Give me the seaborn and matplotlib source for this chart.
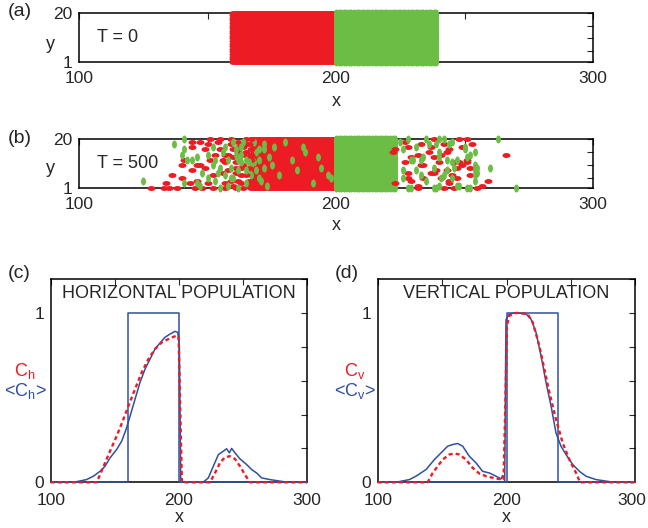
import numpy as np
import pandas as pd
import matplotlib
matplotlib.use("Agg")
import matplotlib.pyplot as plt
from matplotlib.path import Path
from matplotlib.transforms import Affine2D, ScaledTranslation
import seaborn as sns

sns.set_theme(style="white", rc={
    "axes.edgecolor": "black",
    "axes.linewidth": 1.1,
    "xtick.color": "0.15",
    "ytick.color": "0.15",
})
plt.rcParams["font.family"] = ["Liberation Sans", "DejaVu Sans"]
plt.rcParams["mathtext.default"] = "regular"

RED = "#ed1c24"
GREEN = "#6cbd45"
BLUE = "#2f4fa0"

# ---------------- lattice snapshots ----------------
# T = 0: two adjacent blocks filling every row
red_block_cols = (160, 199)
green_block_cols = (200, 239)
rows = (1, 20)

# T = 500: still-compact cores
red_core_cols = (168, 199)
green_core_cols = (200, 223)

# vertical agents sitting inside the horizontal core
green_in_red_x = [167, 168, 169, 169, 170, 171, 172, 172, 172, 168, 167, 170, 174, 176, 178,
                  183, 187, 188, 191, 193, 194, 197, 198, 180, 185, 166, 170, 173, 175]
green_in_red_y = [10, 19, 15, 8, 16, 4, 16, 9, 18, 11, 6, 5, 13, 17, 6,
                  12, 17, 15, 3, 13, 9, 6, 5, 19, 8, 7, 12, 2, 10]

# horizontal agents sitting inside the vertical core
red_in_green_x = [223, 223, 222]
red_in_green_y = [16, 3, 15]

# agents that left the cores
red_free_x = [128, 133, 135, 134, 136, 138, 140, 140, 141, 143, 144, 144, 144, 146, 147,
              147, 148, 149, 149, 150, 150, 151, 152, 154, 155, 157, 156, 157, 159, 159,
              158, 160, 161, 160, 162, 163, 164, 161, 163, 165, 164, 162, 158, 155, 146,
              153, 145, 152, 157, 161, 164, 162, 156, 151,
              166, 166, 166, 166, 166, 167, 167, 167, 167, 167, 167, 165, 165, 165, 164,
              163, 162, 160, 159, 161, 157,
              227, 228, 233, 238, 237, 242, 248, 251, 253, 266, 232, 236, 238, 243, 248,
              251, 238, 243, 244, 247, 259, 255, 246, 242, 232, 229, 228, 227, 233, 237,
              244, 249, 251, 246, 247, 252, 249, 239, 252, 245, 257, 241, 244, 241, 234,
              232, 229, 234, 228, 240]
red_free_y = [1, 1, 1, 3, 6, 1, 5, 10, 12, 3, 17, 19, 8, 10, 10,
              19, 1, 16, 9, 18, 3, 12, 6, 19, 20, 11, 7, 3, 18, 20,
              14, 16, 9, 2, 19, 6, 14, 11, 3, 20, 10, 4, 8, 16, 4,
              14, 1, 1, 1, 1, 17, 15, 12, 20,
              2, 4, 9, 13, 18, 1, 3, 12, 14, 16, 20, 6, 15, 18, 1,
              9, 17, 13, 4, 7, 14,
              19, 17, 18, 20, 17, 18, 20, 20, 18, 14, 14, 15, 13, 15, 11,
              11, 7, 8, 4, 5, 4, 1, 1, 1, 1, 4, 7, 11, 10, 7,
              16, 17, 12, 11, 9, 9, 10, 8, 6, 6, 2, 5, 3, 14, 5,
              2, 13, 10, 5, 11]

green_free_x = [125, 137, 141, 141, 142, 141, 140, 146, 146, 148, 147, 152, 152, 153, 150,
                153, 156, 157, 155, 155, 159, 159, 158, 160, 161, 157, 162, 144, 150, 154,
                158, 163, 163, 162, 165, 165, 162, 165, 160, 164, 166, 161, 163,
                228, 235, 239, 242, 244, 250, 254, 263, 240, 233, 229, 245, 251, 255, 255,
                254, 260, 235, 239, 228, 248, 251, 270, 242, 233, 246, 226, 231, 240, 245,
                250, 252, 240, 243, 247, 254, 254, 254, 245, 243, 247, 252, 240, 241, 226,
                230, 234, 231, 238, 238, 229, 226, 236, 225]
green_free_y = [4, 18, 20, 3, 12, 16, 14, 3, 13, 7, 2, 17, 10, 12, 5,
                4, 15, 17, 9, 1, 5, 9, 12, 19, 14, 6, 8, 12, 14, 7,
                2, 11, 17, 12, 12, 8, 1, 3, 5, 19, 11, 16, 14,
                20, 20, 18, 20, 18, 16, 15, 20, 15, 12, 12, 11, 13, 9, 7,
                4, 9, 4, 1, 1, 2, 1, 1, 6, 6, 9, 16, 8, 20, 19,
                17, 14, 13, 12, 12, 10, 8, 6, 5, 8, 2, 1, 2, 5, 8,
                12, 13, 17, 9, 1, 1, 5, 18, 19]

# ---------------- density profiles ----------------
step_h_x = [100, 160, 160, 200, 200, 300]
step_h_y = [0, 0, 1, 1, 0, 0]
step_v_x = [100, 200, 200, 240, 240, 300]
step_v_y = [0, 0, 1, 1, 0, 0]

avg_h_x = [100, 115, 120.3, 128, 133.3, 138.5, 142.4, 146.3, 151.5, 155.4, 158.8, 161.9,
           165.8, 169.7, 173.6, 177.5, 181.4, 185.3, 189.2, 193.1, 197, 199.1, 200.4, 201.5,
           219, 223, 226.9, 230.9, 234.8, 237.3, 239.4, 241.2, 243.8, 247.7, 252.9, 256.8,
           260.7, 264.6, 271.1, 281.5, 287, 300]
avg_h_y = [0, 0, 0.004, 0.016, 0.036, 0.065, 0.095, 0.144, 0.194, 0.243, 0.312, 0.39,
           0.49, 0.59, 0.668, 0.727, 0.787, 0.822, 0.856, 0.875, 0.891, 0.885, 0.80, 0,
           0, 0.026, 0.095, 0.164, 0.184, 0.198, 0.174, 0.2, 0.174, 0.138, 0.105, 0.075,
           0.055, 0.026, 0.016, 0.004, 0, 0]

mf_h_x = [100, 135.9, 138.5, 142.4, 146.3, 151.5, 156.7, 160.6, 165.8, 171, 176.2, 181.4,
          186.6, 193.1, 198.3, 199.8, 200.9, 202.4, 224.3, 228.2, 232.1, 236, 239.9, 243.8,
          247.7, 251.6, 255.5, 300]
mf_h_y = [0, 0, 0.045, 0.115, 0.184, 0.273, 0.372, 0.45, 0.55, 0.648, 0.727, 0.787,
          0.826, 0.85, 0.866, 0.86, 0.49, 0, 0, 0.055, 0.115, 0.148, 0.154, 0.138,
          0.095, 0.045, 0, 0]

avg_v_x = [100, 114, 124.6, 129.7, 137.5, 144, 149.2, 154.3, 158.2, 162.1, 166, 171.1,
           176.3, 181.4, 186.7, 191.9, 195.7, 197, 198.6, 199.6, 202.2, 207.4, 215.1, 219,
           222.9, 226.8, 230.7, 234.6, 238.4, 242.3, 246.2, 251.4, 256.6, 261.7, 269.5,
           279.8, 285, 300]
avg_v_y = [0, 0, 0.016, 0.036, 0.075, 0.134, 0.174, 0.213, 0.223, 0.229, 0.213, 0.154,
           0.115, 0.065, 0.055, 0.036, 0.02, 0.04, 0.01, 0.96, 0.994, 1.0, 0.994, 0.964,
           0.885, 0.747, 0.589, 0.45, 0.292, 0.213, 0.164, 0.105, 0.065, 0.036, 0.016,
           0.004, 0, 0]

mf_v_x = [100, 138.8, 142.7, 146.6, 150.4, 155.6, 159.5, 163.4, 168.6, 173.8, 179, 184.2,
          192, 197.7, 199.2, 200.3, 202.2, 207.4, 216.4, 220.3, 225.5, 229.4, 233.3, 238.4,
          243.6, 248.8, 254, 257.1, 300]
mf_v_y = [0, 0, 0.055, 0.095, 0.134, 0.164, 0.17, 0.164, 0.134, 0.085, 0.051, 0.036,
          0.022, 0.016, 0.49, 0.925, 0.984, 1.0, 0.994, 0.945, 0.806, 0.668, 0.53, 0.372,
          0.233, 0.134, 0.055, 0, 0]

# ---------------- figure ----------------
W, H = 648, 528
fig = plt.figure(figsize=(W / 100, H / 100), dpi=100)


def box(left, top, right, bottom):
    return [left / W, 1 - bottom / H, (right - left) / W, (bottom - top) / H]


def fxy(px, py):
    return px / W, 1 - py / H


circle = Path.unit_circle()
h_mark = circle.transformed(Affine2D().scale(1.0, 0.62))
v_mark = circle.transformed(Affine2D().scale(0.62, 1.0))
MS = 33


def grid(cols, rws):
    xs, ys = np.meshgrid(np.arange(cols[0], cols[1] + 1), np.arange(rws[0], rws[1] + 1))
    return xs.ravel(), ys.ravel()


def dots(ax, x, y, color, marker):
    sns.scatterplot(x=x, y=y, ax=ax, color=color, marker=marker, s=MS,
                    linewidth=0, clip_on=False, zorder=3, legend=False)


def strip_frame(ax, label_tag, time_text, tag_py, y_py, x_py):
    ax.set_xlim(100, 300)
    ax.set_ylim(1, 20)
    ax.set_xticks([100, 150, 200, 250, 300], labels=["100", "", "200", "", "300"])
    ax.set_yticks([1, 5, 10, 15, 20], labels=["1", "", "", "", "20"])
    ax.tick_params(axis="both", direction="in", length=4, width=0.8,
                   top=True, right=True, labelsize=12.5)
    ax.tick_params(axis="x", pad=6.5)
    ax.tick_params(axis="y", pad=4.5)
    ax.set_xlabel("")
    ax.set_ylabel("")
    for s in ax.spines.values():
        s.set_visible(True)
        s.set_zorder(2.5)
    fig.text(*fxy(8, tag_py), label_tag, fontsize=14, va="center", ha="left")
    fig.text(*fxy(50, y_py), "y", fontsize=13, va="baseline", ha="center")
    fig.text(*fxy(336, x_py), "x", fontsize=13, va="center", ha="center")
    ax.text(107, 10.5, time_text, fontsize=13, va="center", ha="left", zorder=4)


# (a) initial condition
ax_a = fig.add_axes(box(79, 12.7, 593, 61.7))
rx, ry = grid(red_block_cols, rows)
gx, gy = grid(green_block_cols, rows)
dots(ax_a, rx, ry, RED, h_mark)
dots(ax_a, gx, gy, GREEN, v_mark)
strip_frame(ax_a, "(a)", "T = 0", 12, 49, 101)

# (b) after 500 steps
ax_b = fig.add_axes(box(79, 139, 593, 188.3))
rx, ry = grid(red_core_cols, rows)
gx, gy = grid(green_core_cols, rows)
dots(ax_b, rx, ry, RED, h_mark)
dots(ax_b, gx, gy, GREEN, v_mark)
dots(ax_b, green_in_red_x, green_in_red_y, GREEN, v_mark)
dots(ax_b, red_in_green_x, red_in_green_y, RED, h_mark)
dots(ax_b, red_free_x, red_free_y, RED, h_mark)
dots(ax_b, green_free_x, green_free_y, GREEN, v_mark)
strip_frame(ax_b, "(b)", "T = 500", 138.5, 173, 226)


def profile_frame(ax, tag, title, sym, tag_px, lab_px):
    ax.set_xlim(100, 300)
    ax.set_ylim(0, 1.2)
    ax.set_xticks([100, 150, 200, 250, 300], labels=["100", "", "200", "", "300"])
    ax.set_yticks([0, 0.2, 0.4, 0.6, 0.8, 1.0, 1.2],
                  labels=["0", "", "", "", "", "1", ""])
    ax.tick_params(axis="both", direction="in", length=4, width=0.8,
                   top=True, right=True, labelsize=12.5)
    ax.tick_params(axis="x", pad=7.5)
    ax.tick_params(axis="y", pad=4.5)
    ax.set_xlabel("")
    ax.set_ylabel("")
    for s in ax.spines.values():
        s.set_visible(True)
    ax.text(0.5, 0.93, title, transform=ax.transAxes, fontsize=13,
            ha="center", va="center")
    fig.text(*fxy(tag_px, 273.5), tag, fontsize=14, va="center", ha="left")
    fig.text(*fxy(lab_px, 371), "C$_{%s}$" % sym, color=RED, fontsize=13,
             ha="center", va="center")
    fig.text(*fxy(lab_px, 391), "<C$_{%s}$>" % sym, color=BLUE, fontsize=13,
             ha="center", va="center")
    pos = ax.get_position()
    fig.text(*fxy((pos.x0 + pos.x1) / 2 * W, 517), "x",
             fontsize=13, ha="center", va="center")


def profiles(ax, sx, sy, ax_x, ax_y, mx, my):
    sns.lineplot(x=sx, y=sy, ax=ax, color=BLUE, lw=1.1, estimator=None, sort=False,
                 clip_on=False, zorder=3)
    sns.lineplot(x=ax_x, y=ax_y, ax=ax, color=BLUE, lw=1.1, estimator=None, sort=False,
                 clip_on=False, zorder=3.2)
    sns.lineplot(x=mx, y=my, ax=ax, color=RED, lw=1.7, estimator=None, sort=False,
                 linestyle=(0, (1.7, 1.3)), clip_on=False, zorder=3.4)


# (c) horizontal population
ax_c = fig.add_axes(box(50.7, 279, 307, 482.3))
profiles(ax_c, step_h_x, step_h_y, avg_h_x, avg_h_y, mf_h_x, mf_h_y)
profile_frame(ax_c, "(c)", "HORIZONTAL POPULATION", "h", 8, 25)

# (d) vertical population
ax_d = fig.add_axes(box(377.7, 279, 635.3, 482.3))
profiles(ax_d, step_v_x, step_v_y, avg_v_x, avg_v_y, mf_v_x, mf_v_y)
profile_frame(ax_d, "(d)", "VERTICAL POPULATION", "v", 335, 355)

# keep the last tick label of (d) inside the canvas
last = ax_d.get_xticklabels()[-1]
last.set_transform(last.get_transform() + ScaledTranslation(-4 / 100, 0, fig.dpi_scale_trans))

fig.savefig("out.png", dpi=100)
